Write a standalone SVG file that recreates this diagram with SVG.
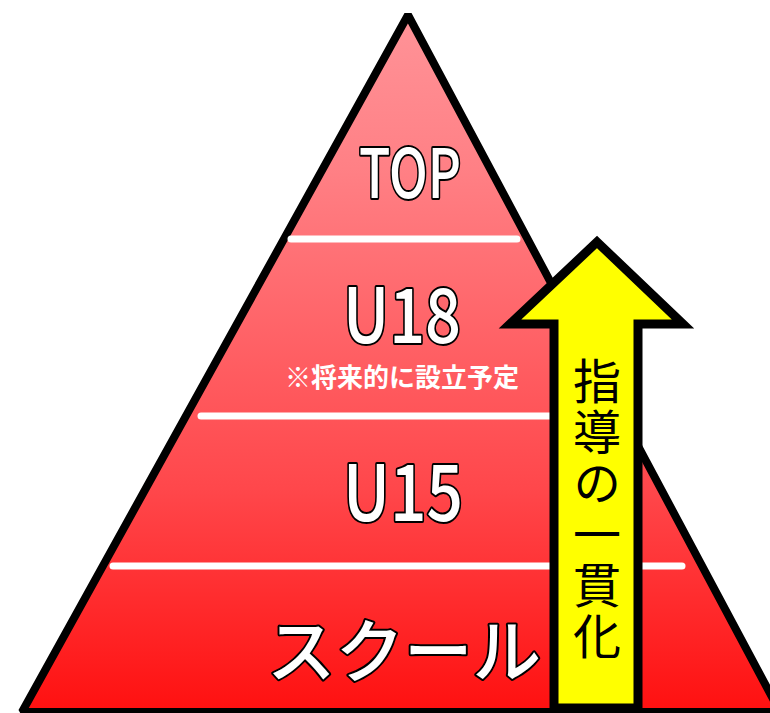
<svg xmlns="http://www.w3.org/2000/svg" width="770" height="713" viewBox="0 0 770 713">
<defs>
<linearGradient id="g" gradientUnits="userSpaceOnUse" x1="0" y1="15" x2="0" y2="712">
<stop offset="0" stop-color="#FF9398"/>
<stop offset="0.22" stop-color="#FF8085"/>
<stop offset="0.68" stop-color="#FF474B"/>
<stop offset="1" stop-color="#FF1010"/>
</linearGradient>
<style>
.lvl{font-family:"Noto Sans CJK JP","Noto Sans",sans-serif;font-weight:500;fill:#fff;stroke:#000;stroke-width:4;paint-order:stroke;stroke-linejoin:round}
.div{stroke:#fff;stroke-width:7;stroke-linecap:round;fill:none}
.note{font-family:"Noto Sans CJK JP",sans-serif;font-weight:bold;font-size:26px;fill:#fff}
.vt{font-family:"Noto Sans CJK JP",sans-serif;font-size:48px;fill:#000}
</style>
</defs>
<g id="pyramid">
<polygon points="408,15 22,712 780,712" fill="url(#g)" stroke="#000" stroke-width="8" stroke-linejoin="bevel"/>
</g>
<g id="connectors">
<line class="div" x1="291" y1="239" x2="517" y2="239"/>
<line class="div" x1="201" y1="416" x2="600" y2="416"/>
<line class="div" x1="113" y1="566" x2="682" y2="566"/>
</g>
<g id="top">
<text class="lvl" x="359" y="198" font-size="68" textLength="102" lengthAdjust="spacingAndGlyphs">TOP</text>
</g>
<g id="u18">
<text class="lvl" x="343" y="343" font-size="76" textLength="118" lengthAdjust="spacingAndGlyphs">U18</text>
<text class="note" x="402" y="387" text-anchor="middle">※将来的に設立予定</text>
</g>
<g id="u15">
<text class="lvl" x="343" y="521" font-size="78" textLength="120" lengthAdjust="spacingAndGlyphs">U15</text>
</g>
<g id="school">
<text class="lvl" x="267" y="677" font-size="69" font-weight="bold" textLength="274" lengthAdjust="spacingAndGlyphs">スクール</text>
</g>
<g id="arrow">
<path d="M597,242 L683,324 L638,324 L638,708 L554,708 L554,324 L510,324 Z" fill="#FFFF00" stroke="#000" stroke-width="9" stroke-linejoin="miter"/>
<text class="vt" x="597" y="357" style="writing-mode:vertical-rl" letter-spacing="3">指導の一貫化</text>
</g>
</svg>
